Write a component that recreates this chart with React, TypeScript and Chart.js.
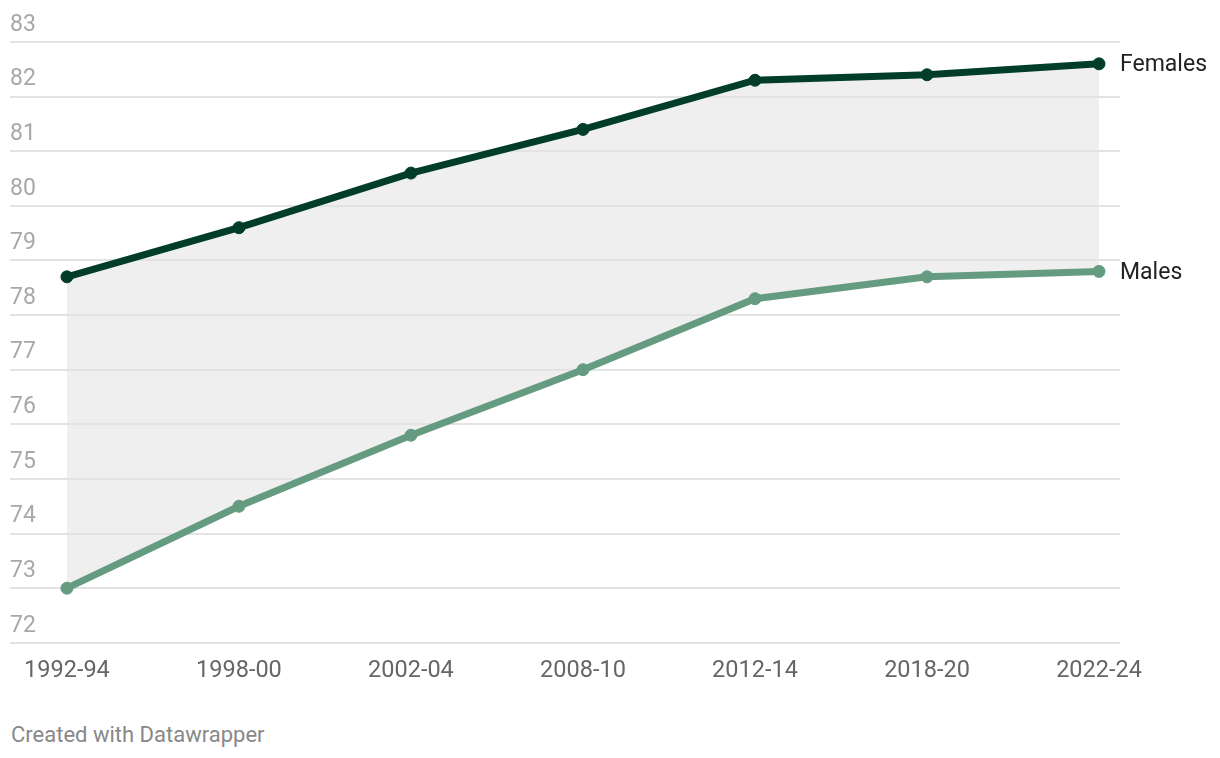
import React, { useEffect, useRef } from "react";
import { Chart, registerables } from "chart.js";

Chart.register(...registerables);

const categories = ["1992-94", "1998-00", "2002-04", "2008-10", "2012-14", "2018-20", "2022-24"];
const females = [78.7, 79.6, 80.6, 81.4, 82.3, 82.4, 82.6];
const males = [73.0, 74.5, 75.8, 77.0, 78.3, 78.7, 78.8];
const seriesNames = ["Females", "Males"];
const yTicks = [72, 73, 74, 75, 76, 77, 78, 79, 80, 81, 82, 83];

const FEMALE_COLOR = "#013d28";
const MALE_COLOR = "#659c81";

const endLabels = {
  id: "endLabels",
  afterDatasetsDraw(chart: any) {
    const ctx = chart.ctx;
    ctx.save();
    ctx.font = "23px Roboto";
    ctx.fillStyle = "#222222";
    ctx.textAlign = "left";
    ctx.textBaseline = "middle";
    chart.data.datasets.forEach((ds: any, i: number) => {
      const meta = chart.getDatasetMeta(i);
      const pt = meta.data[meta.data.length - 1];
      if (pt) ctx.fillText(ds.label, pt.x + 21, pt.y + 1.5);
    });
    ctx.restore();
  },
};

export default function App() {
  const ref = useRef<HTMLCanvasElement | null>(null);

  useEffect(() => {
    document.body.style.margin = "0";
    if (!ref.current) return;
    const chart = new Chart(ref.current, {
      type: "line",
      data: {
        datasets: [
          {
            label: seriesNames[0],
            data: females.map((v, i) => ({ x: i, y: v })),
            borderColor: FEMALE_COLOR,
            backgroundColor: "#efefef",
            pointBackgroundColor: FEMALE_COLOR,
            pointBorderColor: FEMALE_COLOR,
            borderWidth: 7,
            pointRadius: 6,
            pointBorderWidth: 1,
            fill: "+1",
            tension: 0,
          },
          {
            label: seriesNames[1],
            data: males.map((v, i) => ({ x: i, y: v })),
            borderColor: MALE_COLOR,
            backgroundColor: MALE_COLOR,
            pointBackgroundColor: MALE_COLOR,
            pointBorderColor: MALE_COLOR,
            borderWidth: 7,
            pointRadius: 6,
            pointBorderWidth: 1,
            fill: false,
            tension: 0,
          },
        ],
      },
      options: {
        animation: false,
        responsive: false,
        maintainAspectRatio: false,
        layout: { padding: { top: 42, left: 10, right: 100, bottom: 4 } },
        plugins: {
          legend: { display: false },
          tooltip: { enabled: false },
          filler: { drawTime: "beforeDraw" } as any,
        },
        scales: {
          x: {
            type: "linear",
            min: -0.331,
            max: 6.122,
            afterBuildTicks: (scale: any) => {
              scale.ticks = categories.map((_, i) => ({ value: i }));
            },
            grid: { display: false, drawTicks: false },
            border: { display: false },
            ticks: {
              autoSkip: false,
              maxRotation: 0,
              padding: 14,
              color: "#666666",
              font: { family: "Roboto", size: 23.5 },
              callback: (v: any) => categories[v as number] ?? "",
            },
          },
          y: {
            type: "linear",
            min: 72,
            max: 83,
            afterBuildTicks: (scale: any) => {
              scale.ticks = yTicks.map((v) => ({ value: v }));
            },
            grid: { color: "#e3e3e3", lineWidth: 2, drawTicks: false },
            border: { display: false },
            ticks: {
              mirror: true,
              padding: 0,
              labelOffset: -17,
              color: "#a8a8a8",
              font: { family: "Roboto", size: 23 },
            },
          },
        },
      },
      plugins: [endLabels],
    });
    return () => chart.destroy();
  }, []);

  return (
    <div style={{ position: "relative", width: 1220, height: 758, background: "#fff" }}>
      <canvas ref={ref} width={1220} height={703} style={{ display: "block" }} />
      <div
        style={{
          position: "absolute",
          left: 11,
          top: 722,
          fontFamily: "Roboto",
          fontSize: 22,
          color: "#888888",
          lineHeight: "26px",
        }}
      >
        Created with Datawrapper
      </div>
    </div>
  );
}
